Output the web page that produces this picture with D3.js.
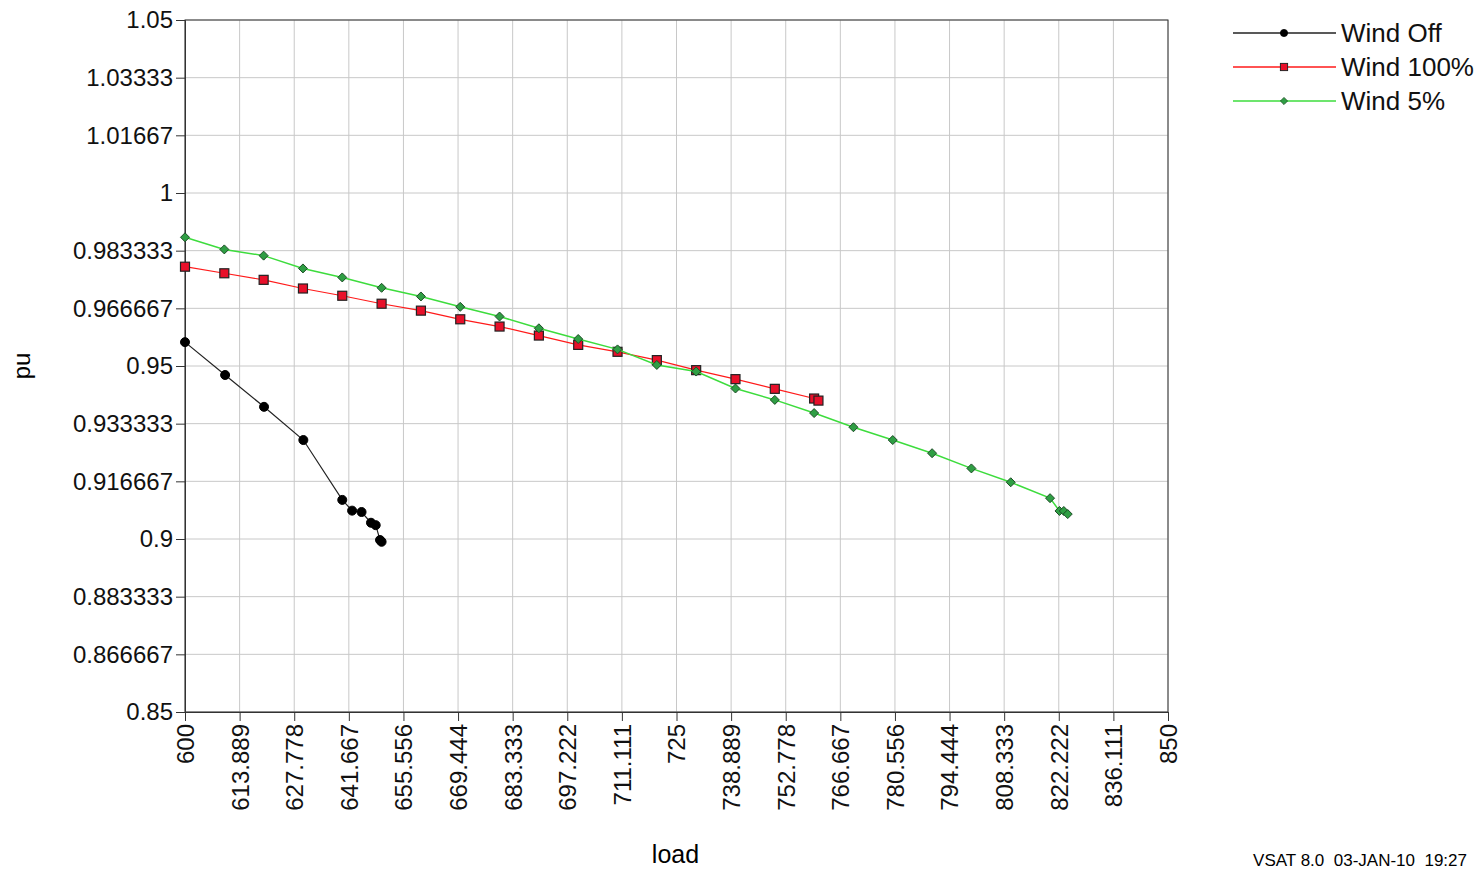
<!DOCTYPE html>
<html>
<head>
<meta charset="utf-8">
<script src="https://cdn.jsdelivr.net/npm/d3@7"></script>
<style>
  body { margin: 0; background: #fff; }
  svg { display: block; font-family: 'Liberation Sans', Arial, sans-serif; }
</style>
</head>
<body>
<main></main>
<script>
const width = 1480
const height = 871
const margin = { left: 185, top: 20, right: 312, bottom: 159 }

// series data (load, pu)
const windOffLoad = [600, 610.2, 620.1, 630.1, 640, 642.5, 644.9, 647.3, 648.5, 649.6, 650]
const windOffPu = [0.9569, 0.9474, 0.9382, 0.9286, 0.9113, 0.9082, 0.9078, 0.9047, 0.9040, 0.8997, 0.8992]

const wind100Load = [600, 610, 620, 630, 640, 650, 660, 670, 680, 690, 700, 710, 720, 730, 740, 750, 760, 761.1]
const wind100Pu = [0.9787, 0.9768, 0.9749, 0.9724, 0.9703, 0.9680, 0.9660, 0.9635, 0.9614, 0.9588, 0.9561, 0.9541, 0.9517, 0.9488, 0.9462, 0.9434, 0.9406, 0.9400]

const wind5Load = [600, 610, 620, 630, 640, 650, 660, 670, 680, 690, 700, 710, 720, 730, 740, 750, 760, 770, 780, 790, 800, 810, 820, 822.4, 823.5, 824.5]
const wind5Pu = [0.9872, 0.9837, 0.9819, 0.9782, 0.9756, 0.9726, 0.9701, 0.9671, 0.9643, 0.9609, 0.9578, 0.9548, 0.9503, 0.9484, 0.9435, 0.9402, 0.9364, 0.9323, 0.9286, 0.9248, 0.9204, 0.9164, 0.9118, 0.9081, 0.9081, 0.9072]

// tick values
const xTicks = [600, 613.889, 627.778, 641.667, 655.556, 669.444, 683.333, 697.222, 711.111, 725, 738.889, 752.778, 766.667, 780.556, 794.444, 808.333, 822.222, 836.111, 850]
const yTicks = [0.85, 0.866667, 0.883333, 0.9, 0.916667, 0.933333, 0.95, 0.966667, 0.983333, 1, 1.01667, 1.03333, 1.05]

const seriesNames = ['Wind Off', 'Wind 100%', 'Wind 5%']

const series = [
  { name: seriesNames[0], load: windOffLoad, pu: windOffPu, line: '#222', fill: '#000', marker: 'circle' },
  { name: seriesNames[1], load: wind100Load, pu: wind100Pu, line: '#ff1a1a', fill: '#e8102a', marker: 'square' },
  { name: seriesNames[2], load: wind5Load, pu: wind5Pu, line: '#3ddc3d', fill: '#2f9e44', marker: 'diamond' }
]

const plotW = width - margin.left - margin.right
const plotH = height - margin.top - margin.bottom

const xScale = d3.scaleLinear().domain([600, 850]).range([margin.left, margin.left + plotW])
const yScale = d3.scaleLinear().domain([0.85, 1.05]).range([margin.top + plotH, margin.top])

const svg = d3.select('main')
  .append('svg')
  .attr('width', width)
  .attr('height', height)

// grid
svg.append('g')
  .selectAll('line')
  .data(xTicks)
  .enter()
  .append('line')
  .attr('x1', d => xScale(d)).attr('x2', d => xScale(d))
  .attr('y1', margin.top).attr('y2', margin.top + plotH)
  .style('stroke', '#c8c8c8')

svg.append('g')
  .selectAll('line')
  .data(yTicks)
  .enter()
  .append('line')
  .attr('x1', margin.left).attr('x2', margin.left + plotW)
  .attr('y1', d => yScale(d)).attr('y2', d => yScale(d))
  .style('stroke', '#c8c8c8')

// frame
svg.append('rect')
  .attr('x', margin.left).attr('y', margin.top)
  .attr('width', plotW).attr('height', plotH)
  .style('fill', 'none')
  .style('stroke', '#333')

// y-axis
const yAxis = d3.axisLeft(yScale)
  .tickValues(yTicks)
  .tickFormat(d3.format('.6~g'))
  .tickSize(9)
  .tickPadding(3)

svg.append('g')
  .attr('transform', `translate(${margin.left}, 0)`)
  .call(yAxis)
  .call(g => g.selectAll('text').style('font-size', '24px').style('fill', '#111'))
  .call(g => g.selectAll('line, path').style('stroke', '#333'))

// x-axis
const xAxis = d3.axisBottom(xScale)
  .tickValues(xTicks)
  .tickFormat(d3.format('.6~g'))
  .tickSize(9)

svg.append('g')
  .attr('transform', `translate(0, ${margin.top + plotH})`)
  .call(xAxis)
  .call(g => g.selectAll('line, path').style('stroke', '#333'))
  .call(g => g.selectAll('text')
    .style('font-size', '24px')
    .style('fill', '#111')
    .style('text-anchor', 'end')
    .attr('transform', 'rotate(-90)')
    .attr('x', -12)
    .attr('y', 0)
    .attr('dy', '0.35em'))

// axis titles
svg.append('text')
  .text('pu')
  .attr('transform', `translate(22, ${yScale(0.95)}) rotate(-90)`)
  .attr('text-anchor', 'middle')
  .attr('dy', '0.35em')
  .style('font-size', '24px')

svg.append('text')
  .text('load')
  .attr('x', margin.left + plotW / 2 - 1)
  .attr('y', 863)
  .attr('text-anchor', 'middle')
  .style('font-size', '25px')

svg.append('text')
  .text('VSAT 8.0  03-JAN-10  19:27')
  .attr('x', 1467)
  .attr('y', 866)
  .attr('text-anchor', 'end')
  .style('font-size', '17px')
  .style('white-space', 'pre')
  .attr('xml:space', 'preserve')

function drawMarker(sel, type, fill) {
  if (type === 'circle') {
    sel.append('circle').attr('r', 4.5).style('fill', fill).style('stroke', '#000')
  } else if (type === 'square') {
    sel.append('rect').attr('x', -4.5).attr('y', -4.5).attr('width', 9).attr('height', 9)
      .style('fill', fill).style('stroke', '#222').style('stroke-width', 1.2)
  } else {
    sel.append('path').attr('d', 'M0,-4.5L4.5,0L0,4.5L-4.5,0Z')
      .style('fill', fill).style('stroke', '#1d4d26').style('stroke-width', 1)
  }
}

const line = d3.line()
  .x(d => xScale(d[0]))
  .y(d => yScale(d[1]))

series.forEach(s => {
  const pts = s.load.map((l, i) => [l, s.pu[i]])
  svg.append('path')
    .datum(pts)
    .attr('d', line)
    .style('fill', 'none')
    .style('stroke', s.line)
    .style('stroke-width', s.marker === 'diamond' ? 1.5 : 1.2)

  svg.append('g')
    .selectAll('g')
    .data(pts)
    .enter()
    .append('g')
    .attr('transform', d => `translate(${xScale(d[0])}, ${yScale(d[1])})`)
    .each(function () { drawMarker(d3.select(this), s.marker, s.fill) })
})

// legend
const legend = svg.append('g')
  .selectAll('g')
  .data(series)
  .enter()
  .append('g')
  .attr('transform', (d, i) => `translate(1233, ${33 + i * 34})`)

legend.append('line')
  .attr('x1', 0).attr('x2', 103)
  .style('stroke', d => d.line)
  .style('stroke-width', 1.5)

legend.each(function (d) {
  const m = d3.select(this).append('g').attr('transform', 'translate(51, 0) scale(0.8)')
  drawMarker(m, d.marker, d.fill)
})

legend.append('text')
  .text(d => d.name)
  .attr('x', 108)
  .attr('dy', '0.35em')
  .style('font-size', '26px')
  .style('fill', '#111')
</script>
</body>
</html>
